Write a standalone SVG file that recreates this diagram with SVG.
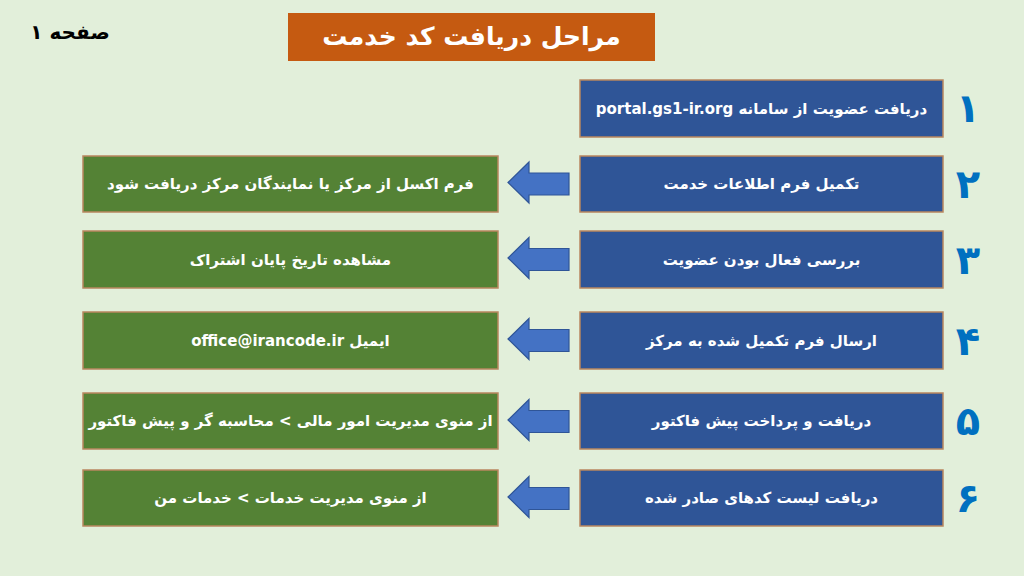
<svg xmlns="http://www.w3.org/2000/svg" width="1024" height="576" viewBox="0 0 1024 576">
<style>
.fa{font-family:"DejaVu Sans","Noto Sans",sans-serif;font-weight:bold;direction:rtl;unicode-bidi:embed}
.blue{fill:#2F5597;stroke:#B9875F;stroke-width:1.5}
.green{fill:#548235;stroke:#B9875F;stroke-width:1.5}
.bt{fill:#FFFFFF;font-size:15px}
.num{fill:#0070C0;font-size:40px}
.arrow{fill:#4472C4;stroke:#2F5597;stroke-width:1.2}
</style>
<defs>
<path id="arr" d="M0,0 L21,-20.5 L21,-9.5 L61,-9.5 L61,12.5 L21,12.5 L21,20.5 Z"/>
</defs>
<rect width="1024" height="576" fill="#E2EFDA"/>
<g id="page"><text class="fa" x="70" y="39" font-size="20" fill="#000000" text-anchor="middle">صفحه ۱</text></g>
<g id="title">
<rect x="288" y="13" width="367" height="48" fill="#C55A11"/>
<text class="fa" x="471.5" y="45" font-size="25" fill="#FFFFFF" text-anchor="middle">مراحل دریافت کد خدمت</text>
</g>
<g id="step1">
<rect class="blue" x="580" y="80" width="363" height="57"/>
<text class="fa bt" x="761.5" y="114" text-anchor="middle">دریافت عضویت از سامانه portal.gs1-ir.org</text>
<text class="fa num" x="968" y="122" text-anchor="middle">۱</text>
</g>
<g id="step2">
<rect class="blue" x="580" y="156" width="363" height="56"/>
<text class="fa bt" x="761.5" y="189" text-anchor="middle">تکمیل فرم اطلاعات خدمت</text>
<text class="fa num" x="968" y="198" text-anchor="middle">۲</text>
</g>
<g id="step3">
<rect class="blue" x="580" y="231" width="363" height="57"/>
<text class="fa bt" x="761.5" y="265" text-anchor="middle">بررسی فعال بودن عضویت</text>
<text class="fa num" x="968" y="274" text-anchor="middle">۳</text>
</g>
<g id="step4">
<rect class="blue" x="580" y="312" width="363" height="57"/>
<text class="fa bt" x="761.5" y="346" text-anchor="middle">ارسال فرم تکمیل شده به  مرکز</text>
<text class="fa num" x="968" y="355" text-anchor="middle">۴</text>
</g>
<g id="step5">
<rect class="blue" x="580" y="393" width="363" height="56"/>
<text class="fa bt" x="761.5" y="426" text-anchor="middle">دریافت و پرداخت پیش فاکتور</text>
<text class="fa num" x="968" y="435" text-anchor="middle">۵</text>
</g>
<g id="step6">
<rect class="blue" x="580" y="470" width="363" height="56"/>
<text class="fa bt" x="761.5" y="503" text-anchor="middle">دریافت لیست کدهای صادر شده</text>
<text class="fa num" x="968" y="512" text-anchor="middle">۶</text>
</g>
<g id="note2">
<rect class="green" x="83" y="156" width="415" height="56"/>
<text class="fa bt" x="290.5" y="189" text-anchor="middle">فرم اکسل از مرکز یا نمایندگان مرکز دریافت شود</text>
</g>
<g id="note3">
<rect class="green" x="83" y="231" width="415" height="57"/>
<text class="fa bt" x="290.5" y="265" text-anchor="middle">مشاهده تاریخ پایان اشتراک</text>
</g>
<g id="note4">
<rect class="green" x="83" y="312" width="415" height="57"/>
<text class="fa bt" x="290.5" y="346" text-anchor="middle">ایمیل office@irancode.ir</text>
</g>
<g id="note5">
<rect class="green" x="83" y="393" width="415" height="56"/>
<text class="fa bt" x="290.5" y="426" font-size="14.5" text-anchor="middle">از منوی مدیریت امور مالی &gt; محاسبه گر و پیش فاکتور</text>
</g>
<g id="note6">
<rect class="green" x="83" y="470" width="415" height="56"/>
<text class="fa bt" x="290.5" y="503" font-size="14" text-anchor="middle">از منوی مدیریت خدمات &gt; خدمات من</text>
</g>
<g id="connectors">
<use href="#arr" class="arrow" x="508" y="182.5"/>
<use href="#arr" class="arrow" x="508" y="258"/>
<use href="#arr" class="arrow" x="508" y="339"/>
<use href="#arr" class="arrow" x="508" y="420"/>
<use href="#arr" class="arrow" x="508" y="497"/>
</g>
</svg>
